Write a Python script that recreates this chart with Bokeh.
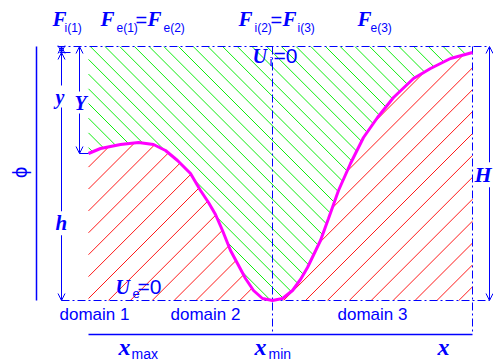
import numpy as np
from bokeh.plotting import figure
from bokeh.models import Range1d, Label, Arrow, OpenHead
from bokeh.embed import file_html
from bokeh.resources import INLINE

# ---- data (x along the domain, phi = potential) ----
curve_x = [0, 12, 32, 50, 65, 77, 89, 102, 112, 120, 127, 134, 142, 149, 157, 165,
           174, 184, 194, 204, 212, 219, 232, 240, 250, 262, 275, 289, 305, 325,
           342, 362, 384]
curve_phi = [147, 152, 156, 158, 156, 150, 140, 127, 110, 98, 86, 70, 50, 37, 22, 10,
             2, 0, 2, 10, 21, 33, 60, 82, 110, 137, 163, 183, 203, 222,
             232, 242, 248]
phi_top = 254          # H
domain_names = ["domain 1", "domain 2", "domain 3"]

BLUE = "#0000ff"
GREEN = "#11ee11"
RED = "#ff1a1a"
MAGENTA = "#ff00ff"
SERIF = "Liberation Serif"
SANS = "Liberation Sans"
DASHDOT = "8 3 2 3"

n = len(curve_x)
i_max = int(np.argmax(curve_phi))
i_min = int(np.argmin(curve_phi))
x_max = curve_x[i_max]
x_min = curve_x[i_min]
phi_max = curve_phi[i_max]
phi_start = curve_phi[0]
x_end = curve_x[-1]

p = figure(width=493, height=361, x_range=Range1d(-88, 405), y_range=Range1d(-61, 300),
           output_backend="svg", toolbar_location=None, min_border=0,
           x_axis_location=None, y_axis_location=None)
p.outline_line_color = None
p.grid.visible = False
p.background_fill_color = "white"


# ---- hatching clipped to the regions above / below the curve ----
def hatch(offsets, sign, above):
    xs = np.linspace(0, x_end, int(x_end * 10) + 1)
    cv = np.interp(xs, curve_x, curve_phi)
    segx, segy = [], []
    for c in offsets:
        ys = c + sign * xs
        if above:
            inside = (ys >= cv) & (ys <= phi_top)
        else:
            inside = (ys <= cv) & (ys >= 0)
        if not inside.any():
            continue
        d = np.diff(np.concatenate([[0], inside.astype(int), [0]]))
        starts = np.where(d == 1)[0]
        ends = np.where(d == -1)[0] - 1
        for s, e in zip(starts, ends):
            if e > s:
                segx.append([xs[s], xs[e]])
                segy.append([ys[s], ys[e]])
    return segx, segy


gx, gy = hatch(np.arange(491 - 14.7 * 40, 700, 14.7), -1, True)
rx, ry = hatch(np.arange(-217 - 21.9 * 20, 300, 21.9), 1, False)
p.multi_line(gx, gy, line_color=GREEN, line_width=1)
p.multi_line(rx, ry, line_color=RED, line_width=1)

# dash-dot guide lines
AX = -52
XR = 401
p.line([-31, XR], [phi_top, phi_top], color=BLUE, line_width=1, line_dash=DASHDOT)
p.line([-27, XR], [0, 0], color=BLUE, line_width=1, line_dash=DASHDOT)
p.line([x_max, x_max], [phi_top, -34], color=BLUE, line_width=1, line_dash=DASHDOT)
p.line([x_min, x_min], [phi_top, -34], color=BLUE, line_width=1, line_dash=DASHDOT)

# solid axes
p.line([AX, AX], [0, phi_top], color=BLUE, line_width=1.5)
p.line([0, x_end], [-34, -34], color=BLUE, line_width=1.5)

# curve
p.line(curve_x, curve_phi, color=MAGENTA, line_width=3)

# ticks
p.line([-29, -18], [phi_max, phi_max], color=BLUE, line_width=1)
p.line([-9, 0], [phi_start, phi_start], color=BLUE, line_width=1)


def arrow(x, y0, y1):
    p.add_layout(Arrow(x_start=x, y_start=y0, x_end=x, y_end=y1,
                       start=OpenHead(size=7, line_color=BLUE, line_width=1),
                       end=OpenHead(size=7, line_color=BLUE, line_width=1),
                       line_color=BLUE, line_width=1))


arrow(-27, phi_max, phi_top)   # y
arrow(-9, phi_start, phi_top)  # Y
arrow(-27, 0, phi_max)         # h
arrow(XR, 0, phi_top)          # H


def lab(x, y, text, size, font=SERIF, style="bold italic", bg=None, angle=0,
        align="left", baseline="alphabetic"):
    dy = 0.35 * size if baseline == "alphabetic" else 0
    p.add_layout(Label(x=x, y=y + dy, text=text, text_font=font, text_font_style=style,
                       text_font_size=f"{size}px", text_color=BLUE,
                       background_fill_color=bg, angle=angle,
                       text_align=align, text_baseline=baseline))


# top labels
lab(-36, 274, "F", 21)
lab(-24, 268, "i(1)", 12, SANS, "normal")
lab(12, 274, "F", 21)
lab(28, 268, "e(1)", 12, SANS, "normal")
lab(47, 274, "=", 20, SANS, "normal")
lab(59, 274, "F", 21)
lab(75, 268, "e(2)", 12, SANS, "normal")
lab(150, 274, "F", 21)
lab(166, 268, "i(2)", 12, SANS, "normal")
lab(182, 274, "=", 20, SANS, "normal")
lab(194, 274, "F", 21)
lab(209, 268, "i(3)", 12, SANS, "normal")
lab(269, 274, "F", 21)
lab(282, 268, "e(3)", 12, SANS, "normal")

# U labels
lab(164, 238, "U", 20)
lab(181, 234, "i", 13, SANS, "normal")
lab(185, 238, "=0", 21, SANS, "normal")
lab(27, 7, "U", 20)
lab(44, 2, "e", 13, SANS, "normal")
lab(49, 7, "=0", 21, SANS, "normal")

# arrow labels
lab(-33, 197, "y", 20, bg="white")
lab(-14, 191, "Y", 20, bg="white")
lab(-33, 70, "h", 21, bg="white")
lab(386, 118, "H", 22, bg="white")
lab(-69, 128, "ϕ", 20, SANS, "normal", angle=np.pi / 2, align="center", baseline="middle")

# domain labels
for xx, name in zip([-29, 82, 249], domain_names):
    lab(xx, -20, name, 17, SANS, "normal")

# x labels
lab(30, -55, "x", 24)
lab(43, -58, "max", 14, SANS, "normal")
lab(166, -55, "x", 24)
lab(180, -58, "min", 14, SANS, "normal")
lab(349, -55, "x", 24)

open("out.html", "w").write(file_html(p, INLINE))
